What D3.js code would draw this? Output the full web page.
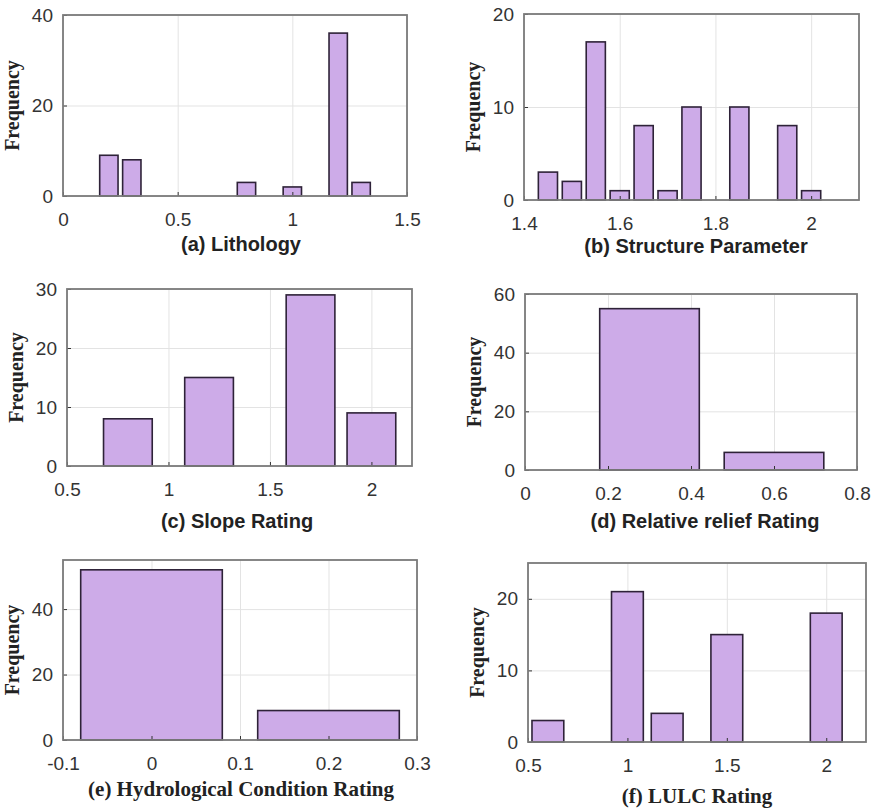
<!DOCTYPE html>
<html>
<head>
<meta charset="utf-8">
<script src="https://cdn.jsdelivr.net/npm/d3@7"></script>
<style>
  body { margin: 0; background: #ffffff; }
  svg { display: block; }
</style>
</head>
<body>
<div id="chart"></div>
<script>
const svgWidth = 873;
const svgHeight = 809;

// (a) Lithology
const lithologyBins = [0.2, 0.3, 0.8, 1.0, 1.2, 1.3];
const lithologyCounts = [9, 8, 3, 2, 36, 3];
const lithologyXTicks = [0, 0.5, 1, 1.5];
const lithologyYTicks = [0, 20, 40];

// (b) Structure Parameter
const structureBins = [1.45, 1.5, 1.55, 1.6, 1.65, 1.7, 1.75, 1.85, 1.95, 2.0];
const structureCounts = [3, 2, 17, 1, 8, 1, 10, 10, 8, 1];
const structureXTicks = [1.4, 1.6, 1.8, 2];
const structureYTicks = [0, 10, 20];

// (c) Slope Rating
const slopeBins = [0.8, 1.2, 1.7, 2.0];
const slopeCounts = [8, 15, 29, 9];
const slopeXTicks = [0.5, 1, 1.5, 2];
const slopeYTicks = [0, 10, 20, 30];

// (d) Relative relief Rating
const reliefBins = [0.3, 0.6];
const reliefCounts = [55, 6];
const reliefXTicks = [0, 0.2, 0.4, 0.6, 0.8];
const reliefYTicks = [0, 20, 40, 60];

// (e) Hydrological Condition Rating
const hydroBins = [0, 0.2];
const hydroCounts = [52, 9];
const hydroXTicks = [-0.1, 0, 0.1, 0.2, 0.3];
const hydroYTicks = [0, 20, 40];

// (f) LULC Rating
const lulcBins = [0.6, 1.0, 1.2, 1.5, 2.0];
const lulcCounts = [3, 21, 4, 15, 18];
const lulcXTicks = [0.5, 1, 1.5, 2];
const lulcYTicks = [0, 10, 20];

const barFill = "#cdabe8";
const barStroke = "#2e2238";
const sansFont = "'Liberation Sans', Arial, sans-serif";
const serifFont = "'Liberation Serif', 'Times New Roman', serif";

// axes boxes in pixels (left, right, top, bottom) + label spots
const panels = [
    { bins: lithologyBins, counts: lithologyCounts, xDomain: [0, 1.5], yDomain: [0, 40],
      xTicks: lithologyXTicks, yTicks: lithologyYTicks, box: [63, 407, 15, 196],
      label: "(a) Lithology", serif: false, labelX: 241, labelY: 251 },
    { bins: structureBins, counts: structureCounts, xDomain: [1.4, 2.1], yDomain: [0, 20],
      xTicks: structureXTicks, yTicks: structureYTicks, box: [524, 859, 14, 200],
      label: "(b) Structure Parameter", serif: false, labelX: 696, labelY: 253 },
    { bins: slopeBins, counts: slopeCounts, xDomain: [0.5, 2.2], yDomain: [0, 30],
      xTicks: slopeXTicks, yTicks: slopeYTicks, box: [67, 412, 289, 466],
      label: "(c) Slope Rating", serif: false, labelX: 237, labelY: 528 },
    { bins: reliefBins, counts: reliefCounts, xDomain: [0, 0.8], yDomain: [0, 60],
      xTicks: reliefXTicks, yTicks: reliefYTicks, box: [525, 857, 294, 470],
      label: "(d) Relative relief Rating", serif: false, labelX: 705, labelY: 528 },
    { bins: hydroBins, counts: hydroCounts, xDomain: [-0.1, 0.3], yDomain: [0, 55],
      xTicks: hydroXTicks, yTicks: hydroYTicks, box: [63, 417, 560, 740],
      label: "(e) Hydrological Condition Rating", serif: true, labelX: 241, labelY: 796 },
    { bins: lulcBins, counts: lulcCounts, xDomain: [0.5, 2.2], yDomain: [0, 25],
      xTicks: lulcXTicks, yTicks: lulcYTicks, box: [528, 866, 563, 742],
      label: "(f) LULC Rating", serif: true, labelX: 697, labelY: 803 }
];

const svg = d3.select("#chart").append("svg")
    .attr("width", svgWidth)
    .attr("height", svgHeight)
    .style("background", "#ffffff");

const drawPanel = (p) => {
    const [left, right, top, bottom] = p.box;
    const w = right - left;
    const h = bottom - top;

    const xScale = d3.scaleLinear().domain(p.xDomain).range([0, w]);
    const yScale = d3.scaleLinear().domain(p.yDomain).range([h, 0]);

    const g = svg.append("g")
        .attr("transform", `translate(${left}, ${top})`);

    // grid lines
    g.append("g")
        .attr("transform", `translate(0, ${h})`)
        .call(d3.axisBottom(xScale).tickValues(p.xTicks).tickSize(-h).tickFormat(""))
        .call(s => s.select(".domain").remove())
        .call(s => s.selectAll("line").attr("stroke", "#e3e3e3").attr("stroke-width", 1));
    g.append("g")
        .call(d3.axisLeft(yScale).tickValues(p.yTicks).tickSize(-w).tickFormat(""))
        .call(s => s.select(".domain").remove())
        .call(s => s.selectAll("line").attr("stroke", "#e3e3e3").attr("stroke-width", 1));

    // bars, MATLAB style width = 0.8 * smallest spacing
    const data = p.bins.map((b, i) => ({ x: b, y: p.counts[i] }));
    const gaps = d3.pairs(p.bins).map(([a, b]) => b - a);
    const bw = 0.8 * d3.min(gaps);

    g.selectAll("rect.bar").data(data)
        .enter().append("rect")
        .attr("class", "bar")
        .attr("x", d => xScale(d.x - bw / 2))
        .attr("width", d => xScale(d.x + bw / 2) - xScale(d.x - bw / 2))
        .attr("y", d => yScale(d.y))
        .attr("height", d => yScale(0) - yScale(d.y))
        .attr("fill", barFill)
        .attr("stroke", barStroke)
        .attr("stroke-width", 1.6);

    // tick labels + small inner ticks
    const xAxisG = g.append("g")
        .attr("transform", `translate(0, ${h})`)
        .call(d3.axisBottom(xScale).tickValues(p.xTicks).tickSize(-4).tickPadding(17)
            .tickFormat(d => String(d)));
    const yAxisG = g.append("g")
        .call(d3.axisLeft(yScale).tickValues(p.yTicks).tickSize(-4).tickPadding(10)
            .tickFormat(d => String(d)));

    [xAxisG, yAxisG].forEach(a => {
        a.select(".domain").remove();
        a.selectAll("line").attr("stroke", "#333").attr("stroke-width", 1);
        a.selectAll("text")
            .attr("fill", "#333")
            .style("font-family", sansFont)
            .style("font-size", "19px");
    });

    // box
    g.append("rect")
        .attr("width", w)
        .attr("height", h)
        .attr("fill", "none")
        .attr("stroke", "#7a7a7a")
        .attr("stroke-width", 1.8);

    // y label
    svg.append("text")
        .attr("transform", `translate(${left - 44}, ${top + h / 2}) rotate(-90)`)
        .attr("text-anchor", "middle")
        .style("font-family", serifFont)
        .style("font-weight", "bold")
        .style("font-size", "20px")
        .attr("fill", "#222")
        .text("Frequency");

    // x label
    svg.append("text")
        .attr("x", p.labelX)
        .attr("y", p.labelY)
        .attr("text-anchor", "middle")
        .style("font-family", p.serif ? serifFont : sansFont)
        .style("font-weight", "bold")
        .style("font-size", p.serif ? "21px" : "20px")
        .attr("fill", "#222")
        .text(p.label);
};

panels.forEach(drawPanel);
</script>
</body>
</html>
